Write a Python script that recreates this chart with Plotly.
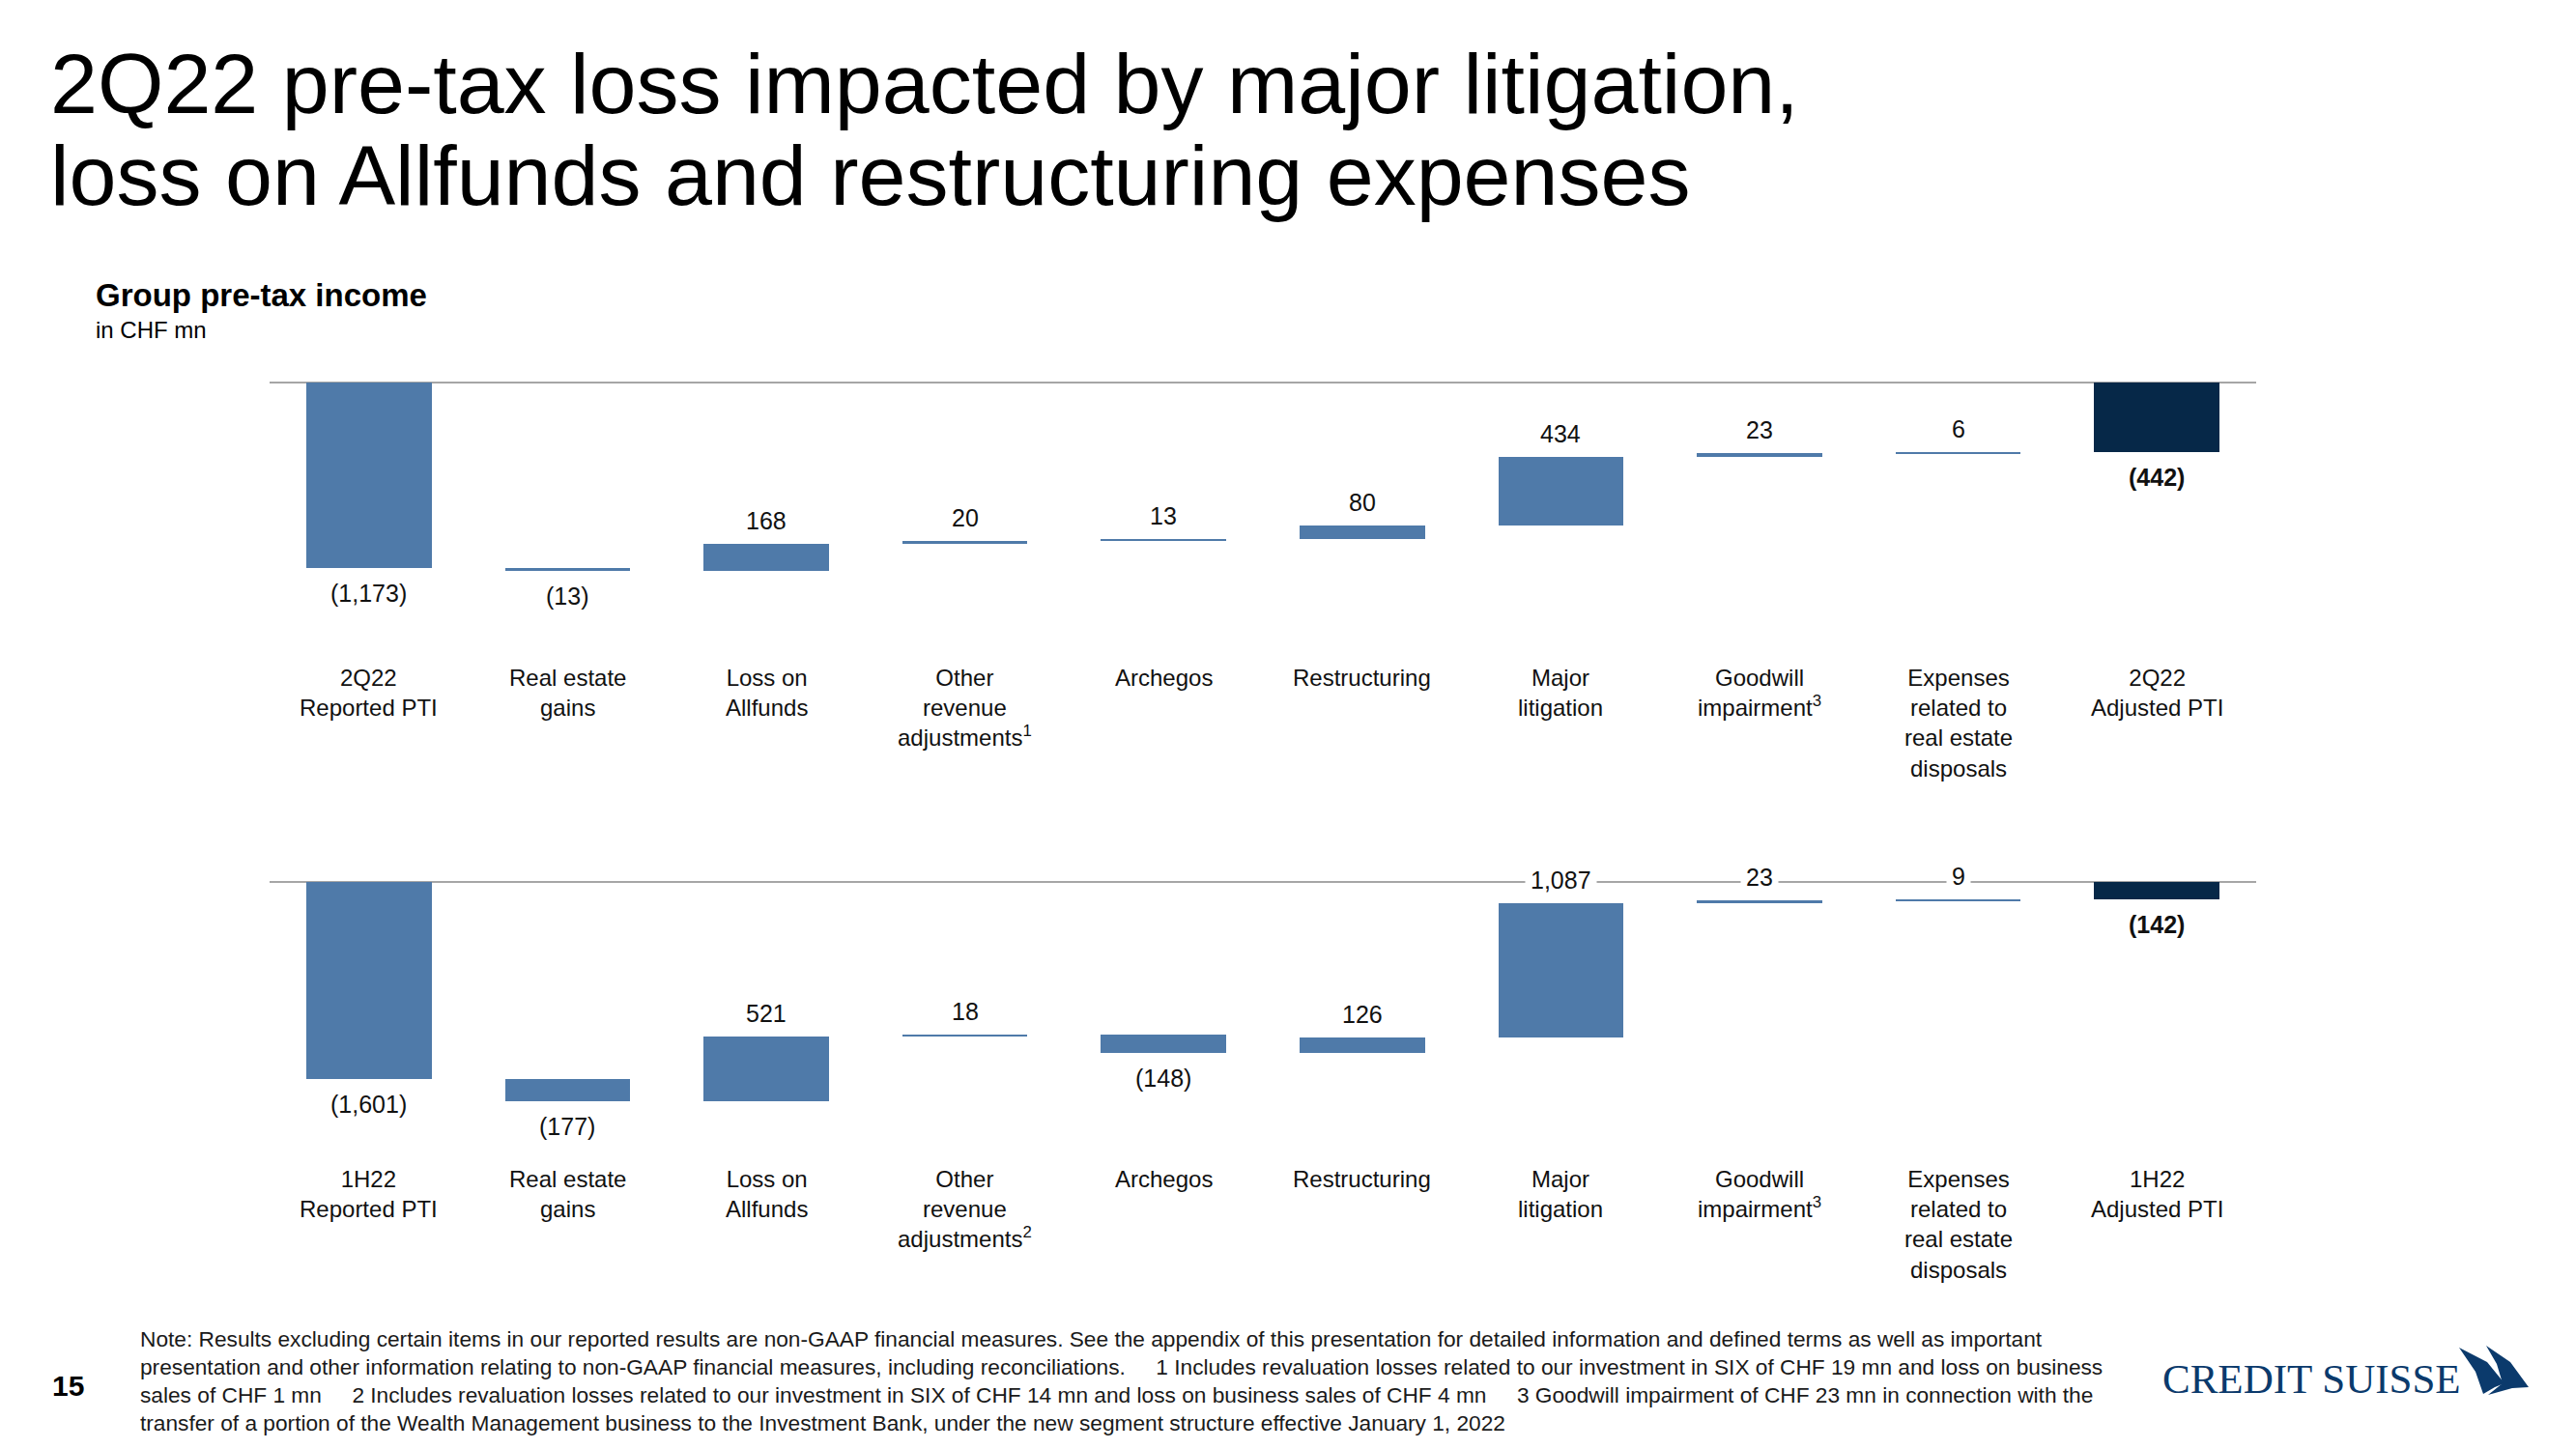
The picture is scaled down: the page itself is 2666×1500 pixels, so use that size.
import numpy as np
import plotly.graph_objects as go

# ---------------- data ----------------
cats_top = ["2Q22<br>Reported PTI", "Real estate<br>gains", "Loss on<br>Allfunds",
            "Other<br>revenue<br>adjustments<sup>1</sup>", "Archegos", "Restructuring",
            "Major<br>litigation", "Goodwill<br>impairment<sup>3</sup>",
            "Expenses<br>related to<br>real estate<br>disposals", "2Q22<br>Adjusted PTI"]
vals_top = [-1173, -13, 168, 20, 13, 80, 434, 23, 6, -442]

cats_bot = ["1H22<br>Reported PTI", "Real estate<br>gains", "Loss on<br>Allfunds",
            "Other<br>revenue<br>adjustments<sup>2</sup>", "Archegos", "Restructuring",
            "Major<br>litigation", "Goodwill<br>impairment<sup>3</sup>",
            "Expenses<br>related to<br>real estate<br>disposals", "1H22<br>Adjusted PTI"]
vals_bot = [-1601, -177, 521, 18, -148, 126, 1087, 23, 9, -142]

measures = ["absolute", "relative", "relative", "relative", "relative", "relative",
            "relative", "relative", "relative", "total"]

title_lines = ["2Q22 pre-tax loss impacted by major litigation,",
               "loss on Allfunds and restructuring expenses"]
subtitle = "Group pre-tax income"
unit = "in CHF mn"
footnotes = [
    "Note: Results excluding certain items in our reported results are non-GAAP financial measures. See the appendix of this presentation for detailed information and defined terms as well as important",
    "presentation and other information relating to non-GAAP financial measures, including reconciliations.\u00a0\u00a0\u00a0\u00a0\u00a01 Includes revaluation losses related to our investment in SIX of CHF 19 mn and loss on business",
    "sales of CHF 1 mn\u00a0\u00a0\u00a0\u00a0\u00a02 Includes revaluation losses related to our investment in SIX of CHF 14 mn and loss on business sales of CHF 4 mn\u00a0\u00a0\u00a0\u00a0\u00a03 Goodwill impairment of CHF 23 mn in connection with the",
    "transfer of a portion of the Wealth Management business to the Investment Bank, under the new segment structure effective January 1, 2022",
]
page_no = "15"

# ---------------- style ----------------
W, H = 2666, 1500
BLUE = "#4F7AA9"
NAVY = "#062848"
GREY = "#A6A6A6"
FONT = "Liberation Sans, Arial, sans-serif"


def py(px):
    return 1 - px / H


def px_(x):
    return x / W


def waterfall(vals):
    bases, heights, colors = [], [], []
    run = 0.0
    for v, m in zip(vals, measures):
        if m == "absolute":
            bases.append(0); heights.append(v); run = v; colors.append(BLUE)
        elif m == "total":
            bases.append(0); heights.append(v); colors.append(NAVY)
        else:
            bases.append(run); heights.append(v); run += v; colors.append(BLUE)
    return np.array(bases, float), np.array(heights, float), colors


def fmt(v):
    s = f"{abs(v):,}"
    return f"({s})" if v < 0 else s


fig = go.Figure()
annotations = []

panels = [
    (cats_top, vals_top, "x", "y", 702),
    (cats_bot, vals_bot, "x2", "y2", 1221),
]
for cats, vals, xa, ya, lab_px in panels:
    b, h, c = waterfall(vals)
    fig.add_trace(go.Bar(x=cats, y=h, base=b, marker=dict(color=c, line=dict(width=0)),
                         width=0.63, xaxis=xa, yaxis=ya, hoverinfo="skip"))
    for i, (cat, v, bb, m) in enumerate(zip(cats, vals, b, measures)):
        top = max(bb, bb + v)
        bot = min(bb, bb + v)
        bold = m == "total"
        txt = f"<b>{fmt(v)}</b>" if bold else fmt(v)
        if v >= 0:
            annotations.append(dict(x=cat, y=top, xref=xa, yref=ya, text=txt, showarrow=False,
                                    yshift=24, yanchor="middle", bgcolor="white", borderpad=5,
                                    font=dict(family=FONT, size=25, color="#111111")))
        else:
            annotations.append(dict(x=cat, y=bot, xref=xa, yref=ya, text=txt, showarrow=False,
                                    yshift=-26, yanchor="middle", bgcolor="white", borderpad=2,
                                    font=dict(family=FONT, size=25, color="#111111")))
        annotations.append(dict(x=cat, y=py(lab_px - 16), xref=xa, yref="paper", text=cat,
                                showarrow=False, yanchor="top", align="center",
                                font=dict(family=FONT, size=24, color="#111111")))

# titles
annotations.append(dict(x=px_(50), y=py(86), xref="paper", yref="paper", text=title_lines[0],
                        showarrow=False, xanchor="left", yanchor="middle",
                        font=dict(family=FONT, size=88, color="#000000")))
annotations.append(dict(x=px_(50), y=py(182), xref="paper", yref="paper", text=title_lines[1],
                        showarrow=False, xanchor="left", yanchor="middle",
                        font=dict(family=FONT, size=88, color="#000000")))
annotations.append(dict(x=px_(97), y=py(306), xref="paper", yref="paper", text=f"<b>{subtitle}</b>",
                        showarrow=False, xanchor="left", yanchor="middle",
                        font=dict(family=FONT, size=33, color="#000000")))
annotations.append(dict(x=px_(97), y=py(341), xref="paper", yref="paper", text=unit,
                        showarrow=False, xanchor="left", yanchor="middle",
                        font=dict(family=FONT, size=24, color="#000000")))
# footnotes
for i, line in enumerate(footnotes):
    annotations.append(dict(x=px_(143), y=py(1386 + 29 * i), xref="paper", yref="paper", text=line,
                            showarrow=False, xanchor="left", yanchor="middle",
                            font=dict(family=FONT, size=22.7, color="#1a1a1a")))
annotations.append(dict(x=px_(52), y=py(1434), xref="paper", yref="paper", text=f"<b>{page_no}</b>",
                        showarrow=False, xanchor="left", yanchor="middle",
                        font=dict(family=FONT, size=30, color="#000000")))
# logo text
annotations.append(dict(x=px_(2236), y=py(1427), xref="paper", yref="paper", text="CREDIT SUISSE",
                        showarrow=False, xanchor="left", yanchor="middle",
                        font=dict(family="Liberation Serif, DejaVu Serif, serif", size=43, color="#0B3A6C")))

# logo sails (decoration)
def path(pts):
    s = "M " + " L ".join(f"{px_(x):.5f},{py(y):.5f}" for x, y in pts) + " Z"
    return s

shapes = [
    dict(type="path", xref="paper", yref="paper", line=dict(width=0), fillcolor="#0B3A6C",
         path=path([(2545, 1395), (2574, 1410), (2592, 1432), (2582, 1436), (2570, 1443), (2562, 1420)])),
    dict(type="path", xref="paper", yref="paper", line=dict(width=0), fillcolor="#0B3A6C",
         path=path([(2573, 1393), (2598, 1410), (2617, 1436), (2600, 1437), (2575, 1444), (2590, 1432), (2584, 1412)])),
]

k1 = 0.164   # px per unit, top panel
k2 = 0.1275  # px per unit, bottom panel
z1, z2 = 396, 913
d1 = (380, 680)
d2 = (897, 1197)

xdom = [px_(279), px_(2335)]
axis_common = dict(showgrid=False, showticklabels=False, showline=False, ticks="",
                   zeroline=True, zerolinecolor=GREY, zerolinewidth=2)

fig.update_layout(
    width=W, height=H, margin=dict(l=0, r=0, t=0, b=0),
    paper_bgcolor="white", plot_bgcolor="white", showlegend=False, bargap=0,
    xaxis=dict(domain=xdom, range=[-0.5, 9.5], visible=False, anchor="y"),
    xaxis2=dict(domain=xdom, range=[-0.5, 9.5], visible=False, anchor="y2"),
    yaxis=dict(domain=[py(d1[1]), py(d1[0])], range=[-(d1[1] - z1) / k1, (z1 - d1[0]) / k1],
               anchor="x", **axis_common),
    yaxis2=dict(domain=[py(d2[1]), py(d2[0])], range=[-(d2[1] - z2) / k2, (z2 - d2[0]) / k2],
                anchor="x2", **axis_common),
    annotations=annotations,
    shapes=shapes,
)

fig.write_html("out.html", config={"displayModeBar": False},
               post_script="document.body.style.margin='0';")
